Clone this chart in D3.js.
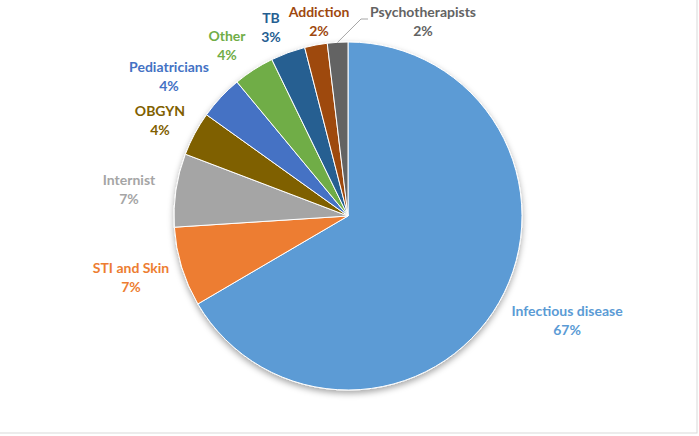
<!DOCTYPE html>
<html><head><meta charset="utf-8">
<script src="https://cdn.jsdelivr.net/npm/d3@7"></script>
<style>html,body{margin:0;padding:0;background:#fff;}svg{display:block;}</style>
</head><body>
<svg id="c" width="699" height="436"></svg>
<script>
const categories = ["Infectious disease","STI and Skin","Internist","OBGYN","Pediatricians","Other","TB","Addiction","Psychotherapists"];
const values = [66.5, 7.4, 6.8, 4.1, 4.1, 3.8, 3.2, 2.1, 1.9];
const colors = ["#5B9BD5","#ED7D31","#A5A5A5","#7F6000","#4472C4","#70AD47","#255E91","#9E480E","#636363"];
// label centres (first line) in pixels
const labelPos = [[567,311],[131,268],[129,180],[160,111],[169,67],[227,36],[271,18],[319,12],[423,12]];

const svg = d3.select("#c");
const W = 699, H = 436, cx = 348, cy = 216, R = 174;
const defs = svg.append("defs");
const f = defs.append("filter").attr("id","sh").attr("x","-20%").attr("y","-20%").attr("width","140%").attr("height","140%");
f.append("feDropShadow").attr("dx",0).attr("dy",3).attr("stdDeviation",3).attr("flood-color","#000").attr("flood-opacity",0.35);

svg.append("rect").attr("x",-1).attr("y",-1).attr("width",W-2+1).attr("height",H-3+1)
  .attr("fill","#fff").attr("stroke","#d9d9d9").attr("stroke-width",1);

const total = d3.sum(values);
const data = categories.map((c,i)=>({cat:c, v:values[i], col:colors[i], lp:labelPos[i]}));
const pie = d3.pie().value(d=>d.v).sort(null);
const arc = d3.arc().innerRadius(0).outerRadius(R);
const arcs = pie(data);

const g = svg.append("g").attr("transform",`translate(${cx},${cy})`);
g.append("g").attr("filter","url(#sh)").selectAll("path").data(arcs).join("path")
  .attr("d",arc).attr("fill",d=>d.data.col).attr("stroke","#fff").attr("stroke-width",1);

// leader line for Psychotherapists
const last = arcs[arcs.length-1];
const edge = d3.arc().innerRadius(R).outerRadius(R).centroid(last);
svg.append("polyline")
  .attr("points",`${cx+edge[0]},${cy+edge[1]} 361,19 368,19`)
  .attr("fill","none").attr("stroke","#a6a6a6").attr("stroke-width",1);

const lg = svg.append("g").attr("font-family","Lato, 'Liberation Sans', sans-serif")
  .attr("font-weight","bold").attr("font-size","14px").attr("text-anchor","middle");
data.forEach(d=>{
  const t = lg.append("text").attr("fill", d.col);
  t.append("tspan").attr("x",d.lp[0]).attr("y",d.lp[1]+5).text(d.cat);
  t.append("tspan").attr("x",d.lp[0]).attr("y",d.lp[1]+24).text(Math.round(d.v/total*100)+"%");
});
</script>
</body></html>
